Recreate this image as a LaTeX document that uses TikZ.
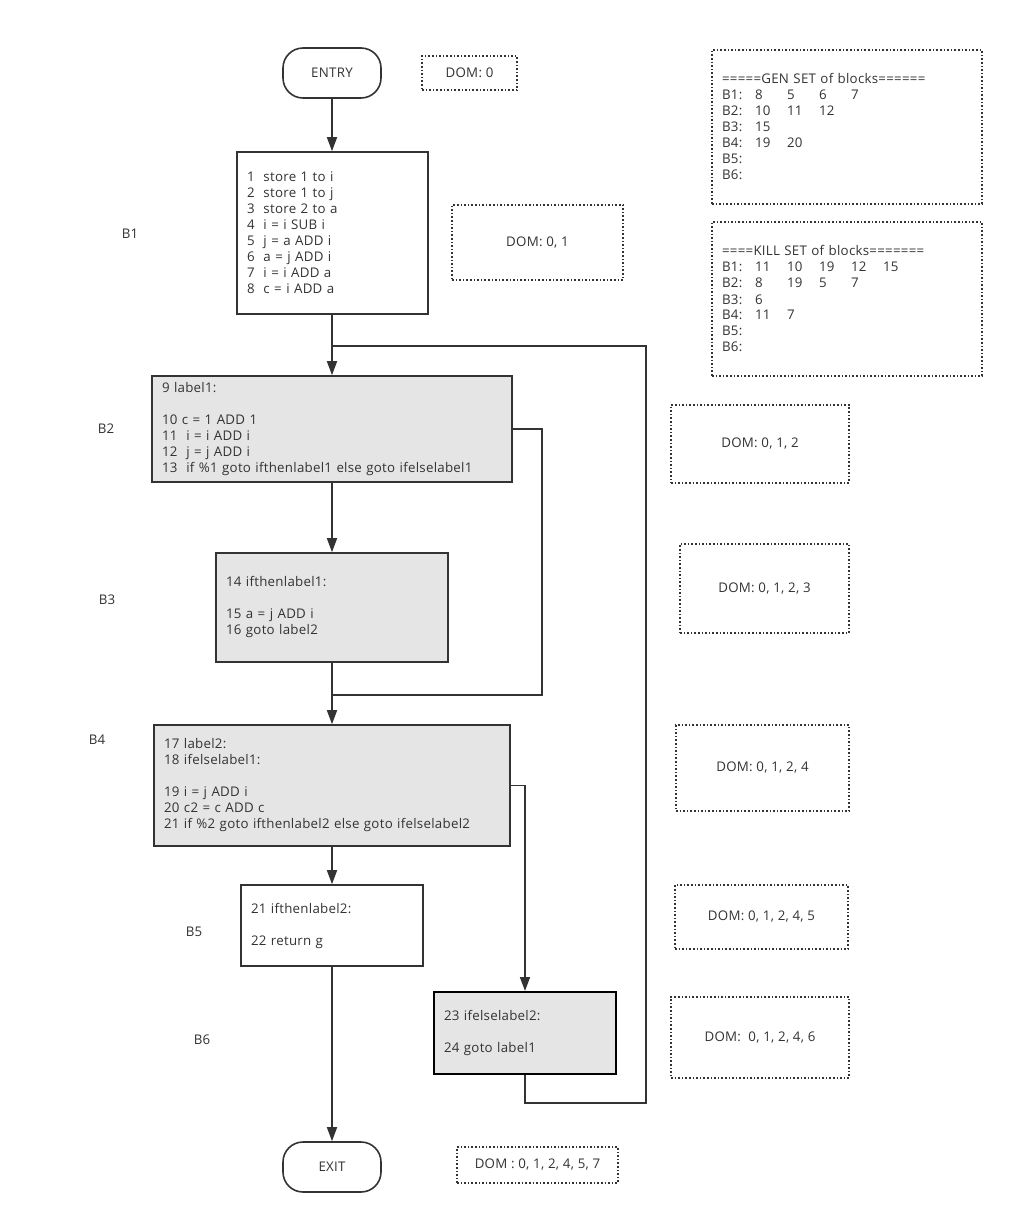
\documentclass[tikz,border=0pt]{standalone}
\usepackage{fontspec}
\setmainfont{Open Sans}[LetterSpace=2]
\usetikzlibrary{arrows.meta}
\definecolor{linec}{HTML}{333333}
\definecolor{fillg}{HTML}{E5E5E5}
\newcommand{\cl}[2][32pt]{\makebox[#1][l]{#2}}
\begin{document}
\begin{tikzpicture}[x=1pt,y=-1pt,
  every node/.style={font=\fontsize{13.3}{16}\selectfont, text=linec},
  blk/.style={draw=linec, line width=1.6pt, inner xsep=10pt, inner ysep=0pt, align=left},
  gblk/.style={blk, fill=fillg},
  term/.style={draw=linec, line width=1.6pt, rounded corners=20pt, minimum width=98pt, minimum height=50pt},
  dom/.style={draw=linec, line width=1.6pt, dash pattern=on 1.6pt off 2pt, align=center, inner sep=0pt},
  setbox/.style={draw=linec, line width=1.6pt, dash pattern=on 1.6pt off 2pt, align=left, inner xsep=10pt, inner ysep=0pt},
  line/.style={draw=linec, line width=1.6pt},
  arr/.style={line, -{Triangle[length=14pt,width=10pt]}},
  lab/.style={inner sep=0pt}
]
\useasboundingbox (0,0) rectangle (1013,1224);
\fill[white] (0,0) rectangle (1013,1224);

% terminals
\node[term] (entry) at (332,73) {ENTRY};
\node[term] (exit) at (332,1167) {EXIT};

% blocks
\node[blk, minimum width=191pt, minimum height=162pt, text width=171pt] (b1) at (332.5,233)
 {1\ \ store 1 to i\\2\ \ store 1 to j\\3\ \ store 2 to a\\4\ \ i = i SUB i\\5\ \ j = a ADD i\\6\ \ a = j ADD i\\7\ \ i = i ADD a\\8\ \ c = i ADD a};
\node[gblk, minimum width=360pt, minimum height=106pt, text width=340pt] (b2) at (332,429)
 {9 label1:\\[16pt]10 c = 1 ADD 1\\11\ \ i = i ADD i\\12\ \ j = j ADD i\\13\ \ if \%1 goto ifthenlabel1 else goto ifelselabel1};
\node[gblk, minimum width=232pt, minimum height=109pt, text width=212pt] (b3) at (332,607.5)
 {14 ifthenlabel1:\\[16pt]15 a = j ADD i\\16 goto label2};
\node[gblk, minimum width=356pt, minimum height=121pt, text width=336pt] (b4) at (332,785.5)
 {17 label2:\\18 ifelselabel1:\\[16pt]19 i = j ADD i\\20 c2 = c ADD c\\21 if \%2 goto ifthenlabel2 else goto ifelselabel2};
\node[blk, minimum width=182pt, minimum height=81pt, text width=162pt] (b5) at (332,925.5)
 {21 ifthenlabel2:\\[16pt]22 return g};
\node[gblk, draw=black, line width=2pt, minimum width=182pt, minimum height=82pt, text width=162pt] (b6) at (525,1033)
 {23 ifelselabel2:\\[16pt]24 goto label1};

% block labels
\node[lab] (lb1) at (130,234) {B1};
\node[lab] (lb2) at (106,429) {B2};
\node[lab] (lb3) at (107,600) {B3};
\node[lab] (lb4) at (97,740) {B4};
\node[lab] (lb5) at (194,932) {B5};
\node[lab] (lb6) at (202,1040) {B6};

% DOM boxes
\node[dom, minimum width=95pt, minimum height=34pt] (d0) at (469.5,73) {DOM: 0};
\node[dom, minimum width=171pt, minimum height=75pt] (d1) at (537.5,242.5) {DOM: 0, 1};
\node[dom, minimum width=178pt, minimum height=78pt] (d2) at (760,444) {DOM: 0, 1, 2};
\node[dom, minimum width=169pt, minimum height=89pt] (d3) at (764.5,588.5) {DOM: 0, 1, 2, 3};
\node[dom, minimum width=173pt, minimum height=86pt] (d4) at (762.5,768) {DOM: 0, 1, 2, 4};
\node[dom, minimum width=173pt, minimum height=64pt] (d5) at (761.5,917) {DOM: 0, 1, 2, 4, 5};
\node[dom, minimum width=178pt, minimum height=81pt] (d6) at (760,1037.5) {DOM:\ \ 0, 1, 2, 4, 6};
\node[dom, minimum width=161pt, minimum height=36pt] (d7) at (537.5,1165) {DOM : 0, 1, 2, 4, 5, 7};

% GEN / KILL sets
\node[setbox, minimum width=270pt, minimum height=154pt, text width=250pt] (gen) at (847,127)
 {=====GEN SET of blocks======\\
  \cl[33pt]{B1:}\cl{8}\cl{5}\cl{6}\cl{7}\\
  \cl[33pt]{B2:}\cl{10}\cl{11}\cl{12}\\
  \cl[33pt]{B3:}\cl{15}\\
  \cl[33pt]{B4:}\cl{19}\cl{20}\\
  B5:\\
  B6:};
\node[setbox, minimum width=270pt, minimum height=154pt, text width=250pt] (kill) at (847,299)
 {====KILL SET of blocks=======\\
  \cl[33pt]{B1:}\cl{11}\cl{10}\cl{19}\cl{12}\cl{15}\\
  \cl[33pt]{B2:}\cl{8}\cl{19}\cl{5}\cl{7}\\
  \cl[33pt]{B3:}\cl{6}\\
  \cl[33pt]{B4:}\cl{11}\cl{7}\\
  B5:\\
  B6:};

% connectors
\coordinate (j1) at (332,346);
\coordinate (j2) at (332,695);
\coordinate (loopbr) at (646,1103);
\coordinate (rt2) at (542,695);

\draw[arr] (entry.south) -- (b1.north -| entry.south);
\draw[arr] (b1.south -| b2.north) -- (b2.north);
\draw[arr] (b2.south) -- (b3.north);
\draw[arr] (b3.south) -- (b4.north);
\draw[arr] (b4.south) -- (b5.north);
\draw[arr] (b5.south) -- (exit.north);
\draw[arr] (b4.east) -| (b6.north);
\draw[line] (b2.east) -| (rt2) -- (j2);
\draw[line] (b6.south) |- (loopbr) |- (j1);
\end{tikzpicture}
\end{document}
